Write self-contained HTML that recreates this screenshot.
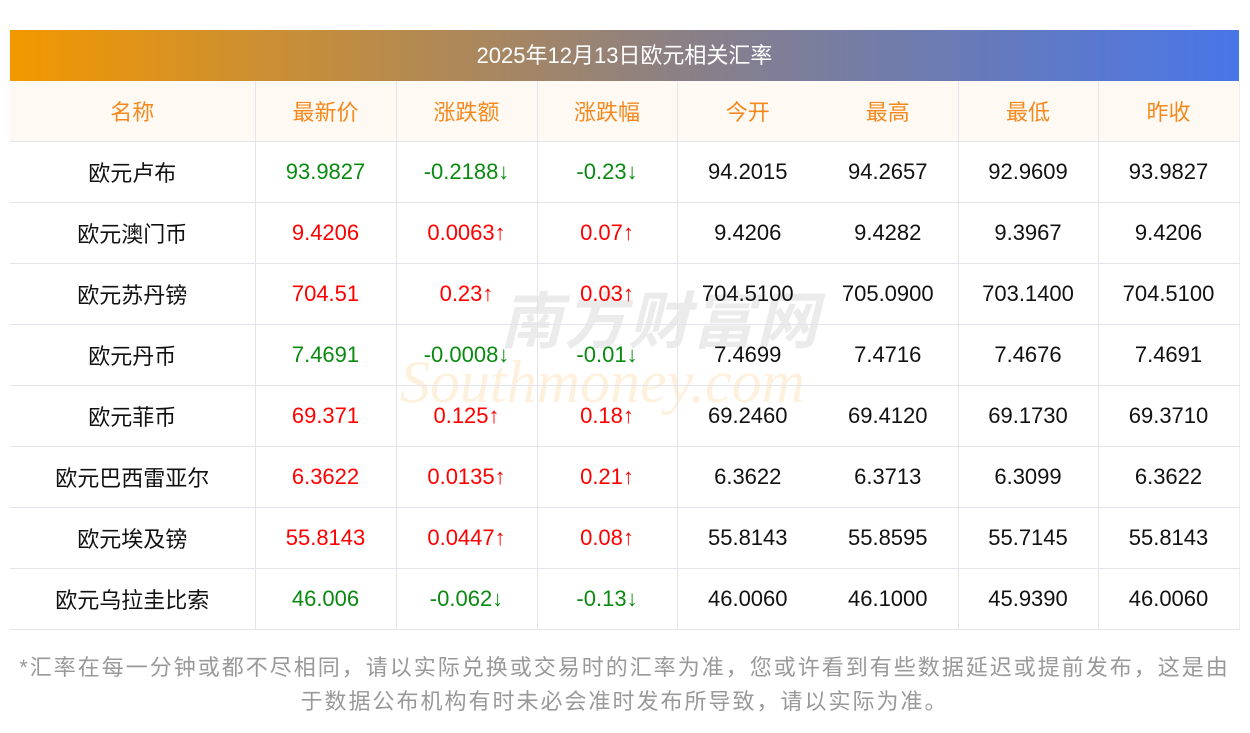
<!DOCTYPE html>
<html><head><meta charset="utf-8"><style>
body{margin:0;width:1250px;height:733px;background:#fff;font-family:"Liberation Sans","Noto Sans CJK SC",sans-serif;position:relative;overflow:hidden}
.bar{position:absolute;left:10px;top:30px;width:1229px;height:51px;background:linear-gradient(90deg,#f39800,#8a8086 55%,#4876e8);color:#fff;font-size:22px;line-height:51px;text-align:center}
table{position:absolute;left:10px;top:81px;width:1229px;border-collapse:collapse;table-layout:fixed}
td{height:60px;text-align:center;font-size:22px;border-bottom:1px solid #e3e5ec;border-right:1px solid #e3e5ec;padding:0;color:#111}
tr.h td{background:#fef9f3;color:#f5891e;height:60px}
td.nb{border-right:none}
td:last-child{border-right:1px solid #eee}
.g{color:#0a8a10}.r{color:#f00}
.foot{position:absolute;left:10px;top:651px;width:1229px;text-align:center;color:#999;font-size:22px;letter-spacing:2px;line-height:34px}
.wm{position:absolute;left:500px;top:292px;font-size:62px;color:rgba(190,190,190,.3);font-weight:bold;letter-spacing:2px;font-style:italic;line-height:1}
.wm2{position:absolute;left:400px;top:352px;font-size:60px;color:rgba(250,215,160,.35);font-style:italic;font-family:"Liberation Serif",serif;line-height:1}
</style></head><body>
<div class="bar">2025年12月13日欧元相关汇率</div>
<div class="wm">南方财富网</div>
<div class="wm2">Southmoney.com</div>
<table>
<colgroup><col style="width:245px"><col style="width:141px"><col style="width:141px"><col style="width:140px"><col style="width:141px"><col style="width:140px"><col style="width:140px"><col style="width:141px"></colgroup>
<tr class="h"><td>名称</td><td>最新价</td><td>涨跌额</td><td>涨跌幅</td><td class="nb">今开</td><td>最高</td><td>最低</td><td>昨收</td></tr>
<tr><td>欧元卢布</td><td class="g">93.9827</td><td class="g">-0.2188↓</td><td class="g">-0.23↓</td><td class="nb">94.2015</td><td>94.2657</td><td>92.9609</td><td>93.9827</td></tr>
<tr><td>欧元澳门币</td><td class="r">9.4206</td><td class="r">0.0063↑</td><td class="r">0.07↑</td><td class="nb">9.4206</td><td>9.4282</td><td>9.3967</td><td>9.4206</td></tr>
<tr><td>欧元苏丹镑</td><td class="r">704.51</td><td class="r">0.23↑</td><td class="r">0.03↑</td><td class="nb">704.5100</td><td>705.0900</td><td>703.1400</td><td>704.5100</td></tr>
<tr><td>欧元丹币</td><td class="g">7.4691</td><td class="g">-0.0008↓</td><td class="g">-0.01↓</td><td class="nb">7.4699</td><td>7.4716</td><td>7.4676</td><td>7.4691</td></tr>
<tr><td>欧元菲币</td><td class="r">69.371</td><td class="r">0.125↑</td><td class="r">0.18↑</td><td class="nb">69.2460</td><td>69.4120</td><td>69.1730</td><td>69.3710</td></tr>
<tr><td>欧元巴西雷亚尔</td><td class="r">6.3622</td><td class="r">0.0135↑</td><td class="r">0.21↑</td><td class="nb">6.3622</td><td>6.3713</td><td>6.3099</td><td>6.3622</td></tr>
<tr><td>欧元埃及镑</td><td class="r">55.8143</td><td class="r">0.0447↑</td><td class="r">0.08↑</td><td class="nb">55.8143</td><td>55.8595</td><td>55.7145</td><td>55.8143</td></tr>
<tr><td>欧元乌拉圭比索</td><td class="g">46.006</td><td class="g">-0.062↓</td><td class="g">-0.13↓</td><td class="nb">46.0060</td><td>46.1000</td><td>45.9390</td><td>46.0060</td></tr>
</table>
<div class="foot">*汇率在每一分钟或都不尽相同，请以实际兑换或交易时的汇率为准，您或许看到有些数据延迟或提前发布，这是由<br>于数据公布机构有时未必会准时发布所导致，请以实际为准。</div>
</body></html>
